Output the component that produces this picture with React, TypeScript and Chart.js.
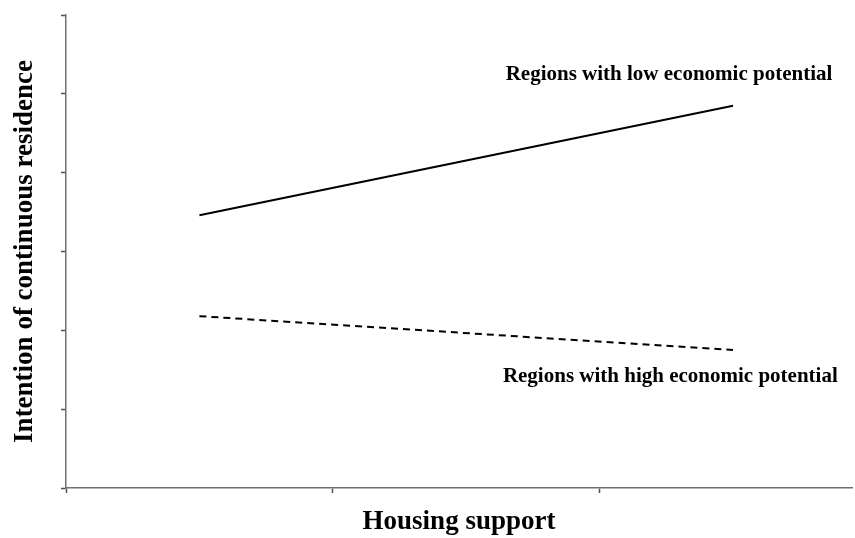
import React, { useEffect, useRef } from "react";
import { Chart, registerables } from "chart.js";

Chart.register(...registerables);

// ---- data ----
const X_TITLE = "Housing support";
const Y_TITLE = "Intention of continuous residence";
const xPositions = [0.5, 2.5];
const lowPotential = [3.46, 4.85];
const highPotential = [2.18, 1.75];
const seriesLabels = [
  "Regions with low economic potential",
  "Regions with high economic potential",
];
const labelAnchorX = [2.26, 2.265];
const labelAnchorY = [5.18, 1.35];
const yMin = 0;
const yMax = 6;
const xMin = 0;
const xMax = 2.946;

const FONT = '"Liberation Serif", "DejaVu Serif", serif';
const AXIS_COLOR = "#707070";
const TICK_COLOR = "#505050";

const textPlugin = {
  id: "textPlugin",
  afterDraw(chart: any) {
    const { ctx, chartArea, scales } = chart;
    ctx.save();
    ctx.fillStyle = "#000";
    // series labels
    ctx.font = `bold 21px ${FONT}`;
    ctx.textAlign = "center";
    ctx.textBaseline = "alphabetic";
    seriesLabels.forEach((t, i) => {
      ctx.fillText(
        t,
        scales.x.getPixelForValue(labelAnchorX[i]),
        scales.y.getPixelForValue(labelAnchorY[i])
      );
    });
    // x title
    ctx.font = `bold 27px ${FONT}`;
    ctx.fillText(X_TITLE, (chartArea.left + chartArea.right) / 2, chartArea.bottom + 41);
    // y title
    ctx.translate(32, (chartArea.top + chartArea.bottom) / 2);
    ctx.rotate(-Math.PI / 2);
    ctx.fillText(Y_TITLE, 0, 0);
    ctx.restore();
  },
};

export default function App() {
  const ref = useRef<HTMLCanvasElement | null>(null);
  useEffect(() => {
    document.body.style.margin = "0";
    const canvas = ref.current;
    if (!canvas) return;
    const chart = new Chart(canvas, {
      type: "line",
      data: {
        datasets: [
          {
            label: seriesLabels[0],
            data: xPositions.map((x, i) => ({ x, y: lowPotential[i] })),
            borderColor: "#000",
            borderWidth: 2,
            pointRadius: 0,
          },
          {
            label: seriesLabels[1],
            data: xPositions.map((x, i) => ({ x, y: highPotential[i] })),
            borderColor: "#000",
            borderWidth: 2,
            borderDash: [7, 5],
            pointRadius: 0,
          },
        ],
      },
      options: {
        animation: false,
        responsive: false,
        layout: { padding: { left: 61, top: 15, right: 3, bottom: 45 } },
        plugins: { legend: { display: false }, tooltip: { enabled: false } },
        scales: {
          x: {
            type: "linear",
            min: xMin,
            max: xMax,
            ticks: { display: false, stepSize: 1, includeBounds: false },
            grid: {
              drawOnChartArea: false,
              tickLength: 5,
              tickColor: TICK_COLOR,
              tickWidth: 1.5,
            },
            border: { color: AXIS_COLOR, width: 1.5 },
          },
          y: {
            type: "linear",
            min: yMin,
            max: yMax,
            ticks: { display: false, stepSize: 1 },
            grid: {
              drawOnChartArea: false,
              tickLength: 5,
              tickColor: TICK_COLOR,
              tickWidth: 1.5,
            },
            border: { color: AXIS_COLOR, width: 1.5 },
          },
        },
      },
      plugins: [textPlugin],
    });
    return () => chart.destroy();
  }, []);
  return (
    <div style={{ width: 855, height: 538 }}>
      <canvas ref={ref} width={855} height={538} style={{ display: "block" }} />
    </div>
  );
}
